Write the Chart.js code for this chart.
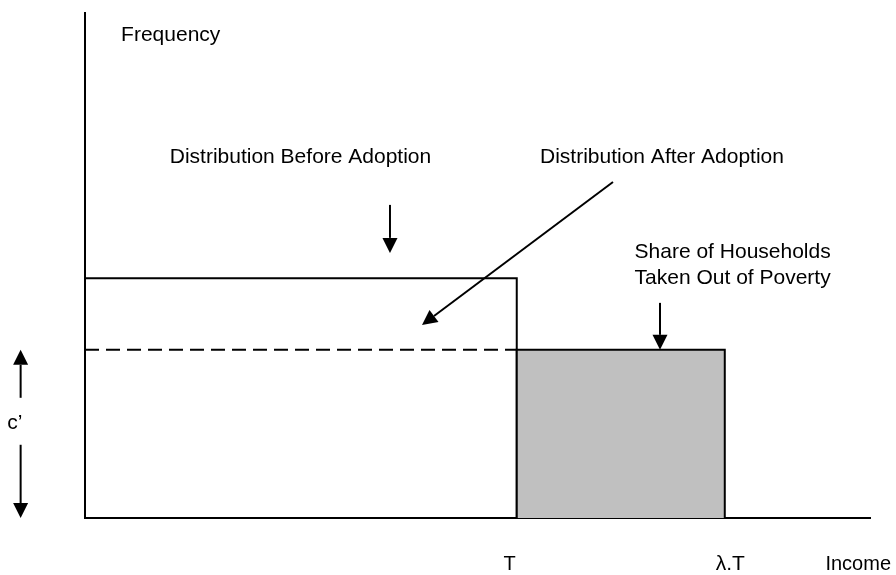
<!DOCTYPE html>
<html>
<head>
<meta charset="utf-8">
<script src="https://cdn.jsdelivr.net/npm/chart.js@4/dist/chart.umd.min.js"></script>
<style>
body { margin: 0; background: #fff; }
#wrap { width: 896px; height: 575px; }
</style>
</head>
<body>
<div id="wrap"><canvas id="myChart"></canvas></div>
<script>
// schematic units: income and frequency both on a 0..100 scale
const xRange = [0, 100];
const yRange = [0, 100];

const povertyLine = 55;     // T
const liftedIncome = 81.5;  // λ.T
const freqBefore = 47.5;
const freqAfter = 33.3;

// where the axis labels sit (the T label is set just left of the line)
const tickValues = [54.1, 82.2, 98.5];
const tickLabels = ['T', 'λ.T', 'Income'];

const beforePoints = [
  {x: 0, y: freqBefore}, {x: povertyLine, y: freqBefore}, {x: povertyLine, y: 0}
];
const afterPoints = [
  {x: 0, y: freqAfter}, {x: povertyLine, y: freqAfter}
];
const liftedPoints = [
  {x: povertyLine, y: 0}, {x: povertyLine, y: freqAfter},
  {x: liftedIncome, y: freqAfter}, {x: liftedIncome, y: 0}
];

// text notes and arrows, placed in chart units
const notes = [
  {text: 'Frequency', x: 4.6, y: 95.6, align: 'left'},
  {text: 'Distribution Before Adoption', x: 27.45, y: 71.5},
  {text: 'Distribution After Adoption', x: 73.5, y: 71.5},
  {text: 'Share of Households', x: 82.5, y: 52.7},
  {text: 'Taken Out of Poverty', x: 82.5, y: 47.5},
  {text: 'c\u2019', x: -9.9, y: 18.8, align: 'left'}
];
const arrows = [
  {from: [38.85, 62.0], to: [38.85, 52.5]},
  {from: [67.26, 66.53], to: [42.93, 38.22]},
  {from: [73.25, 42.6], to: [73.25, freqAfter]},
  {from: [-8.2, 23.8], to: [-8.2, freqAfter]},
  {from: [-8.2, 14.5], to: [-8.2, 0]}
];

const FONT = '"Liberation Sans", Arial, sans-serif';

function drawArrow(ctx, x1, y1, x2, y2) {
  const head = 15, half = 7.5;
  const ang = Math.atan2(y2 - y1, x2 - x1);
  const bx = x2 - head * Math.cos(ang), by = y2 - head * Math.sin(ang);
  ctx.beginPath();
  ctx.moveTo(x1, y1);
  ctx.lineTo(bx, by);
  ctx.stroke();
  ctx.beginPath();
  ctx.moveTo(x2, y2);
  ctx.lineTo(bx + half * Math.sin(ang), by - half * Math.cos(ang));
  ctx.lineTo(bx - half * Math.sin(ang), by + half * Math.cos(ang));
  ctx.closePath();
  ctx.fill();
}

const notesPlugin = {
  id: 'notes',
  afterDraw(chart) {
    const {ctx, scales: {x, y}} = chart;
    ctx.save();
    ctx.fillStyle = '#000';
    ctx.strokeStyle = '#000';
    ctx.lineWidth = 2;
    ctx.textBaseline = 'middle';
    ctx.font = '21px ' + FONT;
    notes.forEach(n => {
      ctx.textAlign = n.align || 'center';
      ctx.fillText(n.text, x.getPixelForValue(n.x), y.getPixelForValue(n.y));
    });
    arrows.forEach(a => drawArrow(ctx,
      x.getPixelForValue(a.from[0]), y.getPixelForValue(a.from[1]),
      x.getPixelForValue(a.to[0]), y.getPixelForValue(a.to[1])));
    ctx.restore();
  }
};

const lineStyle = {borderColor: '#000', borderWidth: 2, pointRadius: 0, tension: 0, fill: false};

const data = {
  datasets: [{
    label: 'Taken out of poverty',
    data: liftedPoints,
    ...lineStyle,
    fill: 'origin',
    backgroundColor: '#c0c0c0'
  }, {
    label: 'Before adoption',
    data: beforePoints,
    ...lineStyle
  }, {
    label: 'After adoption',
    data: afterPoints,
    ...lineStyle,
    borderDash: [14, 7]
  }]
};

const config = {
  type: 'line',
  data: data,
  plugins: [notesPlugin],
  options: {
    responsive: true,
    maintainAspectRatio: false,
    animation: false,
    layout: {padding: {top: 13, right: 26, left: 0, bottom: 0}},
    plugins: {legend: {display: false}, tooltip: {enabled: false}},
    scales: {
      x: {
        type: 'linear',
        min: xRange[0],
        max: xRange[1],
        grid: {display: false, drawTicks: false},
        border: {display: true, color: '#000', width: 2},
        afterBuildTicks: s => { s.ticks = tickValues.map(v => ({value: v})); },
        afterFit: s => { s.height = 57; s.paddingLeft = 0; s.paddingRight = 0; },
        ticks: {
          autoSkip: false,
          maxRotation: 0,
          padding: 34,
          color: '#000',
          callback: (v, i) => tickLabels[i],
          font: c => ({family: FONT, size: c.index === 1 ? 21 : 20})
        }
      },
      y: {
        type: 'linear',
        min: yRange[0],
        max: yRange[1],
        grid: {display: false, drawTicks: false},
        border: {display: true, color: '#000', width: 2},
        ticks: {display: false},
        afterFit: s => { s.width = 85; s.paddingTop = 0; s.paddingBottom = 0; }
      }
    }
  }
};

new Chart(document.getElementById('myChart').getContext('2d'), config);
</script>
</body>
</html>
